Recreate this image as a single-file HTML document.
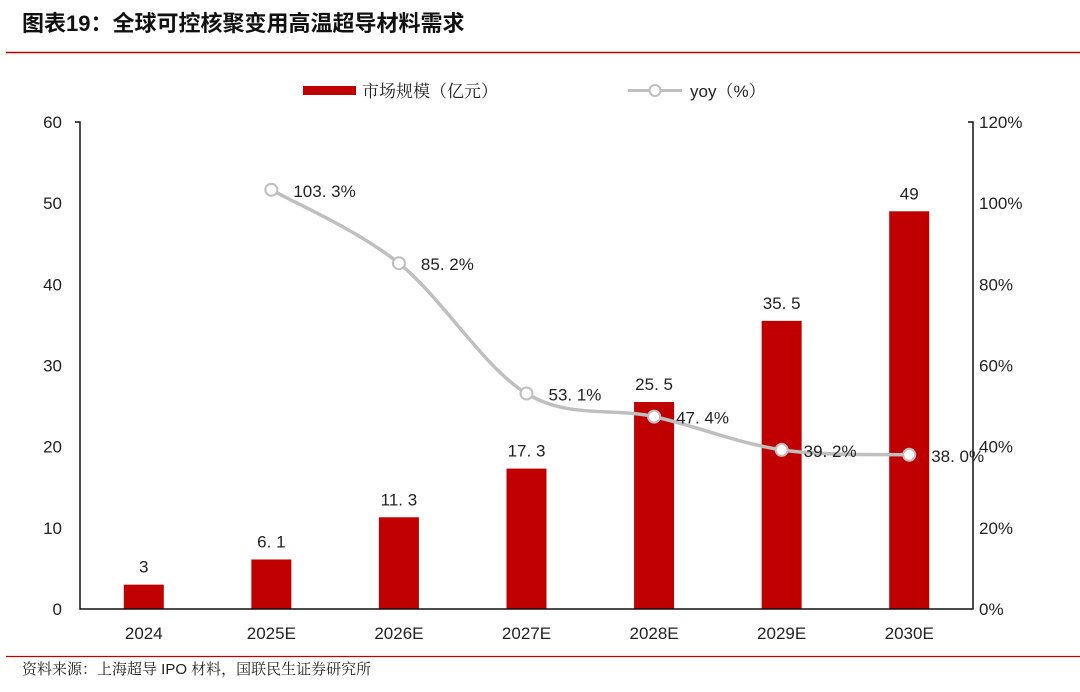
<!DOCTYPE html>
<html><head><meta charset="utf-8"><style>
body{margin:0;background:#fff;}
svg{display:block;font-family:"Liberation Sans","Noto Sans CJK SC",sans-serif;}
.serif{font-family:"Liberation Sans","Noto Serif CJK SC",serif;}
</style></head><body>
<svg id="c" width="1080" height="692" xmlns="http://www.w3.org/2000/svg">
<text x="22" y="31" font-size="22" font-weight="bold" fill="#111">图表19：全球可控核聚变用高温超导材料需求</text>
<line x1="6" y1="52.5" x2="1080" y2="52.5" stroke="#c00000" stroke-width="1.5"/>
<g>
<rect x="303" y="86" width="53" height="9" fill="#c00000"/>
<text class="serif" x="362" y="97" font-size="17" fill="#222">市场规模（亿元）</text>
<line x1="628" y1="90.5" x2="682" y2="90.5" stroke="#bfbfbf" stroke-width="3"/>
<circle cx="655" cy="90.5" r="5.5" fill="#fff" stroke="#bfbfbf" stroke-width="2"/>
<text class="serif" x="690" y="97" font-size="17" fill="#222">yoy（%）</text>
</g>
<g id="plot"></g>
<line x1="6" y1="656.5" x2="1080" y2="656.5" stroke="#c00000" stroke-width="1.2"/>
<text class="serif" x="22" y="674" font-size="15" fill="#222">资料来源：上海超导 IPO 材料，国联民生证券研究所</text>
</svg>
<script>
const categories=["2024","2025E","2026E","2027E","2028E","2029E","2030E"];
const marketSize=[3,6.1,11.3,17.3,25.5,35.5,49];
const yoy=[null,103.3,85.2,53.1,47.4,39.2,38.0];
const leftTicks=[0,10,20,30,40,50,60];
const rightTicks=[0,20,40,60,80,100,120];
const X0=80,X1=973,Y0=609,Y1=122;
const bw=(X1-X0)/categories.length;
const xc=i=>X0+bw*(i+0.5);
const yL=v=>Y0-(v/60)*(Y0-Y1);
const yR=v=>Y0-(v/120)*(Y0-Y1);
const NS="http://www.w3.org/2000/svg";
const g=document.getElementById('plot');
function mk(t,a,txt){const e=document.createElementNS(NS,t);for(const k in a)e.setAttribute(k,a[k]);if(txt!=null)e.textContent=txt;g.appendChild(e);return e;}
marketSize.forEach((v,i)=>{
 const r=mk('rect',{x:xc(i)-20,y:yL(v),width:40,height:Y0-yL(v),fill:'#c00000'});
 
 
 const t=mk('text',{x:xc(i),y:yL(v)-12,'font-size':17,'text-anchor':'middle',fill:'#222'},String(v).replace('.','. '));
 
 
});
let a=mk('path',{d:`M${X0-5},${Y1}H${X0}V${Y0}H${X1}V${Y1}H${X1-5}`,fill:'none',stroke:'#111','stroke-width':1.5});


leftTicks.forEach(v=>{
 const t=mk('text',{x:X0-18,y:yL(v)+6,'font-size':17,'text-anchor':'end',fill:'#222'},String(v));
 
 
});
rightTicks.forEach(v=>{
 const t=mk('text',{x:X1+6,y:yR(v)+6,'font-size':17,fill:'#222'},v+'%');
 
 
});
categories.forEach((c,i)=>{
 const t=mk('text',{x:xc(i),y:Y0+30,'font-size':17,'text-anchor':'middle',fill:'#222'},c);
 
 
});
const pts=[];yoy.forEach((v,i)=>{if(v!=null)pts.push([xc(i),yR(v),v,i]);});
let d=`M${pts[0][0]},${pts[0][1]}`;
for(let i=0;i<pts.length-1;i++){
 const p0=pts[Math.max(0,i-1)],p1=pts[i],p2=pts[i+1],p3=pts[Math.min(pts.length-1,i+2)];
 const c1=[p1[0]+(p2[0]-p0[0])/6,p1[1]+(p2[1]-p0[1])/6],c2=[p2[0]-(p3[0]-p1[0])/6,p2[1]-(p3[1]-p1[1])/6];
 d+=`C${c1[0]},${c1[1]} ${c2[0]},${c2[1]} ${p2[0]},${p2[1]}`;
}
const ln=mk('path',{d,fill:'none',stroke:'#bfbfbf','stroke-width':3.5});


pts.forEach(p=>{
 const c=mk('circle',{cx:p[0],cy:p[1],r:6,fill:'#fff',stroke:'#bfbfbf','stroke-width':2});
 
 
 const t=mk('text',{x:p[0]+22,y:p[1]+7,'font-size':17,fill:'#222'},p[2].toFixed(1).replace('.','. ')+'%');
 
 
});
</script>
</body></html>
